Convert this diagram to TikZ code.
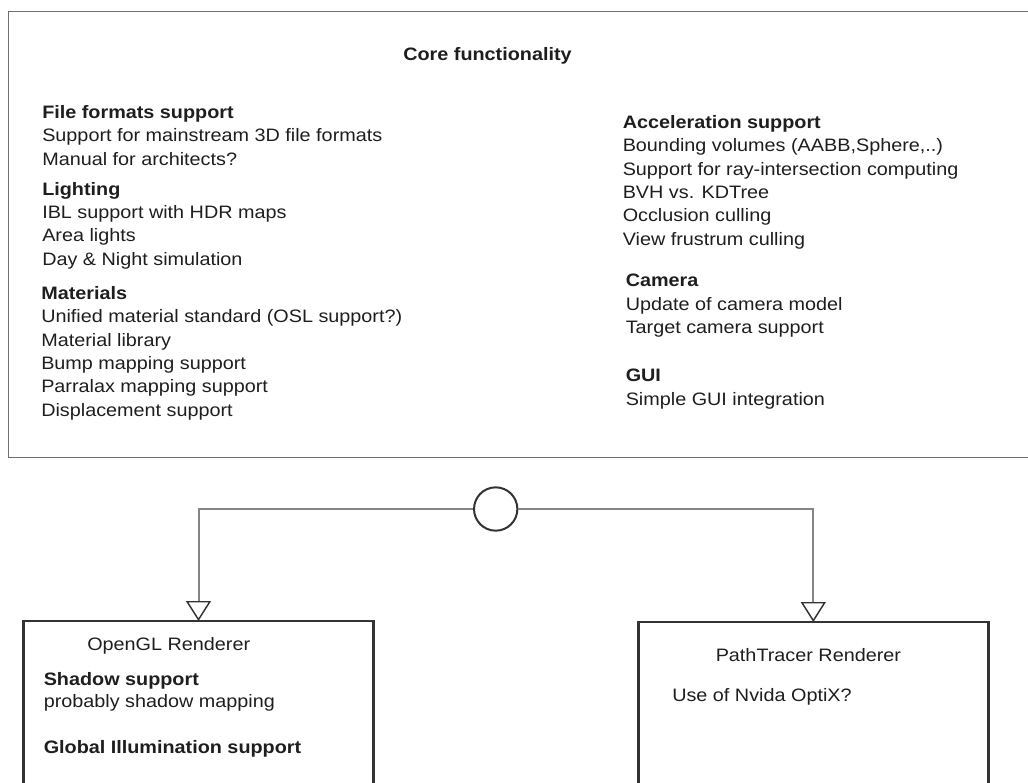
\documentclass[tikz,border=0pt]{standalone}
\usepackage{fontspec}
\setmainfont{Liberation Sans}[FakeStretch=1.1]
\usetikzlibrary{arrows.meta}
\definecolor{ink}{HTML}{1E1E1E}
\definecolor{frame}{HTML}{6F6F6F}
\definecolor{wire}{HTML}{858585}
\definecolor{edge}{HTML}{333333}

\begin{document}
\begin{tikzpicture}[x=0.75pt,y=-0.75pt,
  txt/.style={anchor=base west, inner sep=0pt, text=ink,
    font=\fontsize{13.5pt}{16pt}\selectfont},
  head/.style={txt, font=\fontsize{13.5pt}{16pt}\selectfont\bfseries},
  panel/.style={draw=frame, line width=1.1pt, anchor=north west,
    outer sep=0pt, inner sep=0pt},
  renderer/.style={draw=edge, line width=2pt, anchor=north west,
    outer sep=0pt, inner sep=0pt, minimum width=262.5pt, minimum height=140pt},
  hubstyle/.style={circle, draw=edge, line width=1.5pt, fill=white,
    minimum size=32.5pt, inner sep=0pt},
  wirestyle/.style={draw=wire, line width=1.5pt,
    -{Triangle[open, length=15pt, width=18.75pt, color=edge, line width=1.1pt]}}
]
\useasboundingbox (0,0) rectangle (1028,782);
\clip (0,0) rectangle (1028,782);

% core functionality panel (open on the right)
\node[panel, minimum width=777pt, minimum height=334.5pt] (core) at (8.5,11.7) {};
\node[head, anchor=base] (coretitle) at (487.5,60.5) {Core functionality};

% left column
\node[head] (fmt) at (42,118.3) {File formats support};
\foreach \t [count=\i] in {{Support for mainstream 3D file formats},{Manual for architects?}}
  \node[txt] (fmt\i) at (42,{118.3+\i*23.4}) {\t};
\node[head] (light) at (42,195) {Lighting};
\foreach \t [count=\i] in {{IBL support with HDR maps},{Area lights},{Day \& Night simulation}}
  \node[txt] (light\i) at (42,{195+\i*23.35}) {\t};
\node[head] (mat) at (41,299.3) {Materials};
\foreach \t [count=\i] in {{Unified material standard (OSL support?)},{Material library},{Bump mapping support},{Parralax mapping support},{Displacement support}}
  \node[txt] (mat\i) at (41,{299.3+\i*23.4}) {\t};

% right column
\node[head] (acc) at (622.5,128.3) {Acceleration support};
\foreach \t [count=\i] in {{Bounding volumes (AABB,Sphere,..)},{Support for ray-intersection computing},{BVH vs. KDTree},{Occlusion culling},{View frustrum culling}}
  \node[txt] (acc\i) at (622.5,{128.3+\i*23.35}) {\t};
\node[head] (cam) at (625.5,286.7) {Camera};
\foreach \t [count=\i] in {{Update of camera model},{Target camera support}}
  \node[txt] (cam\i) at (625.5,{286.7+\i*23.3}) {\t};
\node[head] (gui) at (625.5,381) {GUI};
\node[txt] (gui1) at (625.5,405) {Simple GUI integration};

% renderers
\node[renderer] (gl) at (23.5,621) {};
\node[txt] (gltitle) at (87,650) {OpenGL Renderer};
\node[head] (shadow) at (43.5,685) {Shadow support};
\node[txt] (shadow1) at (43.5,707) {probably shadow mapping};
\node[head] (gi) at (43.5,753.3) {Global Illumination support};

\node[renderer] (pt) at (638.3,622) {};
\node[txt] (pttitle) at (715.5,661.7) {PathTracer Renderer};
\node[txt] (optix) at (672,701.7) {Use of Nvida OptiX?};

% interface hub and realisation links
\node[hubstyle] (hub) at (495.7,509) {};
\draw[wirestyle] (hub.west) -| (gl.north);
\draw[wirestyle] (hub.east) -| (pt.north);
\end{tikzpicture}
\end{document}
